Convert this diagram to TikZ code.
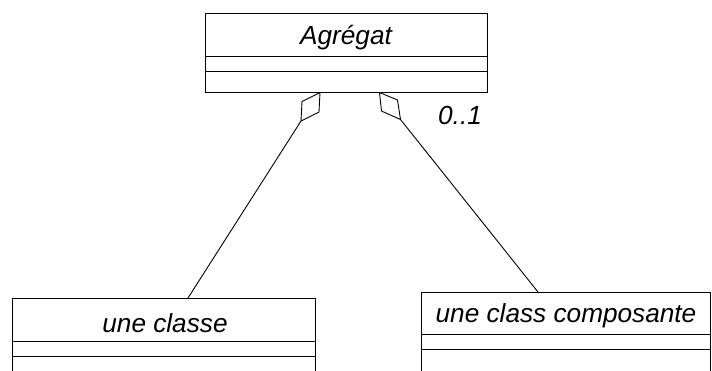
\documentclass[tikz,border=0pt]{standalone}
\usepackage{fontspec}
\setmainfont{Liberation Sans}
\begin{document}
\begin{tikzpicture}[x=1pt,y=-1pt,
  umlline/.style={draw=black,line width=0.9pt},
  classbox/.style={rectangle,draw=black,line width=0.9pt,inner sep=0pt,anchor=north west},
  classname/.style={font=\fontsize{26.2}{30}\selectfont\itshape,inner sep=0pt},
  diamondshape/.style={draw=black,line width=0.9pt,fill=white,line join=miter}]
\useasboundingbox (0,0) rectangle (712,370);
\clip (0,0) rectangle (712,370);
\fill[white] (0,0) rectangle (712,370);

% aggregate class
\node[classbox,minimum width=282pt,minimum height=79pt] (agg) at (205,13) {};
\draw[umlline] (205,56) -- (487,56);
\draw[umlline] (205,71) -- (487,71);
\node[classname] (aggname) at (346,38) {Agrégat};

% left part class
\node[classbox,minimum width=303pt,minimum height=90pt] (cls) at (12,298) {};
\draw[umlline] (12,341) -- (315,341);
\draw[umlline] (12,356) -- (315,356);
\node[classname] (clsname) at (165,323) {une classe};

% right part class
\node[classbox,minimum width=289pt,minimum height=95pt] (comp) at (421,292) {};
\draw[umlline] (421,334) -- (710,334);
\draw[umlline] (421,349) -- (710,349);
\node[classname] (compname) at (566,316) {une class composante};

% aggregation diamonds
\coordinate (d1t) at (320,92.5);
\coordinate (d1l) at (302,101.5);
\coordinate (d1b) at (301,121);
\coordinate (d1r) at (319,112);
\coordinate (d2t) at (379.5,92.5);
\coordinate (d2r) at (397.5,100);
\coordinate (d2b) at (400.5,119.5);
\coordinate (d2l) at (381.5,111);
\draw[diamondshape] (d1t) -- (d1l) -- (d1b) -- (d1r) -- cycle;
\draw[diamondshape] (d2t) -- (d2r) -- (d2b) -- (d2l) -- cycle;

% connectors
\coordinate (c1) at (188,298);
\coordinate (c2) at (538,292);
\draw[umlline] (d1b) -- (c1);
\draw[umlline] (d2b) -- (c2);

% multiplicity
\node[classname] (mult) at (460,115) {0..1};
\end{tikzpicture}
\end{document}
